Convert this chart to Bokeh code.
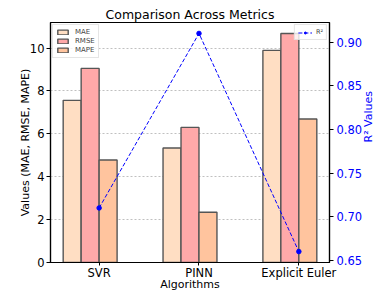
import math
from bokeh.plotting import figure
from bokeh.models import (Range1d, LinearAxis, FixedTicker, Legend, LegendItem,
                          ColumnDataSource, NumeralTickFormatter)
from bokeh.embed import file_html
from bokeh.resources import INLINE

algorithms = ["SVR", "PINN", "Explicit Euler"]
mae = [7.56, 5.34, 9.89]
rmse = [9.05, 6.30, 10.68]
mape = [4.78, 2.34, 6.69]
r2 = [0.71, 0.91, 0.66]
left_ticks = [0, 2, 4, 6, 8, 10]
right_ticks = [0.65, 0.70, 0.75, 0.80, 0.85, 0.90]

FONT = "DejaVu Sans"
xs = list(range(len(algorithms)))
w = 0.18
X0, X1 = -0.487, 2.307
Y0, Y1 = 0, 11.19

p = figure(width=387, height=295, output_backend="svg", toolbar_location=None,
           x_range=Range1d(X0, X1), y_range=Range1d(Y0, Y1),
           min_border_left=50, min_border_right=58, min_border_top=22,
           min_border_bottom=33, title="Comparison Across Metrics")
p.frame_width = 279
p.frame_height = 240
p.extra_y_ranges = {"r2": Range1d(0.6475, 0.9225)}

p.title.align = "center"
p.title.text_font = FONT
p.title.text_font_size = "12.5px"
p.title.text_font_style = "normal"
p.title.text_color = "black"
p.title.standoff = 2
p.title.offset = 0

p.xgrid.grid_line_color = None
p.ygrid.grid_line_color = "#b0b0b0"
p.ygrid.grid_line_dash = "2 2"
p.ygrid.grid_line_width = 0.8
p.ygrid.ticker = FixedTicker(ticks=left_ticks)
p.outline_line_color = "black"
p.outline_line_width = 1.2

edge = "#555555"
src = ColumnDataSource(dict(
    x_mae=[x - 0.27 for x in xs], x_rmse=[x - 0.09 for x in xs], x_mape=[x + 0.09 for x in xs],
    mae=mae, rmse=rmse, mape=mape))
r_mae = p.vbar(x="x_mae", top="mae", width=w, source=src, fill_color="#FFDEC3",
               line_color=edge, line_width=1.4)
r_rmse = p.vbar(x="x_rmse", top="rmse", width=w, source=src, fill_color="#FFA9A9",
                line_color=edge, line_width=1.4)
r_mape = p.vbar(x="x_mape", top="mape", width=w, source=src, fill_color="#FFC49E",
                line_color=edge, line_width=1.4)

r_line = p.line(xs, r2, y_range_name="r2", line_color="blue", line_dash="4 2", line_width=1)
r_pts = p.scatter(xs, r2, y_range_name="r2", size=4.5, fill_color="blue", line_color="blue")

# axes
xa = p.xaxis[0]
xa.ticker = FixedTicker(ticks=xs)
xa.major_label_overrides = {i: n for i, n in enumerate(algorithms)}
xa.axis_label = "Algorithms"
ya = p.yaxis[0]
ya.ticker = FixedTicker(ticks=left_ticks)
ya.axis_label = "Values (MAE, RMSE, MAPE)"

for ax in (xa, ya):
    ax.major_label_text_font = FONT
    ax.major_label_text_font_size = "11.5px"
    ax.major_label_text_color = "black"
    ax.axis_label_text_font = FONT
    ax.axis_label_text_font_size = "11px"
    ax.axis_label_text_font_style = "normal"
    ax.axis_label_text_color = "black"
    ax.minor_tick_line_color = None
    ax.major_tick_out = 4
    ax.major_tick_in = 0
    ax.axis_line_color = "black"
    ax.axis_line_width = 1.2
    ax.major_label_standoff = 2
    ax.axis_label_standoff = 0

xa.major_tick_out = 3
xa.major_label_standoff = 0
xa.axis_label_standoff = -5
ya.axis_label_standoff = -5

ra = LinearAxis(y_range_name="r2", ticker=FixedTicker(ticks=right_ticks),
                formatter=NumeralTickFormatter(format="0.00"),
                axis_label="R² Values")
ra.major_label_text_font = FONT
ra.major_label_text_font_size = "11.5px"
ra.major_label_text_color = "blue"
ra.axis_label_text_font = FONT
ra.axis_label_text_font_size = "11px"
ra.axis_label_text_font_style = "normal"
ra.axis_label_text_color = "blue"
ra.axis_label_orientation = math.pi / 2
ra.minor_tick_line_color = None
ra.major_tick_out = 4
ra.major_tick_in = 0
ra.axis_line_color = "black"
ra.axis_line_width = 1.2
ra.major_label_standoff = 3
ra.axis_label_standoff = 3
p.add_layout(ra, "right")

# legends
leg1 = Legend(items=[LegendItem(label="MAE", renderers=[r_mae]),
                     LegendItem(label="RMSE", renderers=[r_rmse]),
                     LegendItem(label="MAPE", renderers=[r_mape])],
              location="top_left", label_text_font=FONT, label_text_font_size="7px",
              glyph_width=13, glyph_height=6, label_height=7, label_width=10,
              spacing=1, padding=3, margin=2, label_standoff=6,
              border_line_color="#cccccc", background_fill_alpha=0.8)
leg2 = Legend(items=[LegendItem(label="R²", renderers=[r_line, r_pts])],
              location="top_right", label_text_font=FONT, label_text_font_size="6.5px",
              glyph_width=14, glyph_height=5, label_height=6, label_width=6,
              spacing=1, padding=3, margin=2, label_standoff=4,
              border_line_color="#cccccc", background_fill_alpha=0.8)
p.add_layout(leg1)
p.add_layout(leg2)

open("out.html", "w").write(file_html(p, INLINE))
